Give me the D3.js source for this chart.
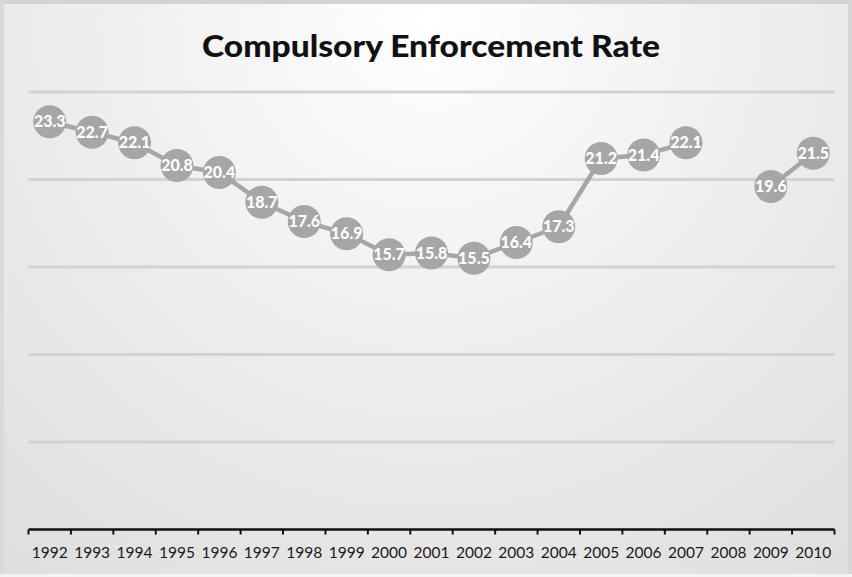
<!DOCTYPE html>
<html><head><meta charset="utf-8">
<script src="https://cdn.jsdelivr.net/npm/d3@7"></script>
<style>html,body{margin:0;padding:0;background:#fff;}svg{display:block;}</style>
</head><body>
<svg id="chart" width="852" height="577"></svg>
<script>
const title = "Compulsory Enforcement Rate";
const years = ["1992","1993","1994","1995","1996","1997","1998","1999","2000","2001","2002","2003","2004","2005","2006","2007","2008","2009","2010"];
const rates = [23.3,22.7,22.1,20.8,20.4,18.7,17.6,16.9,15.7,15.8,15.5,16.4,17.3,21.2,21.4,22.1,null,19.6,21.5];
const gridValues = [5,10,15,20,25];

const W = 852, H = 577;
const svg = d3.select("#chart");
const defs = svg.append("defs");
const rg = defs.append("radialGradient").attr("id","bg")
  .attr("gradientUnits","userSpaceOnUse").attr("cx",430).attr("cy",20).attr("r",680);
rg.append("stop").attr("offset","0").attr("stop-color","#ffffff");
rg.append("stop").attr("offset","0.5").attr("stop-color","#eeeeee");
rg.append("stop").attr("offset","1").attr("stop-color","#dfdfdf");

svg.append("rect").attr("width",W).attr("height",H).attr("fill","url(#bg)");
svg.append("rect").attr("x",0).attr("y",0).attr("width",W).attr("height",4).attr("fill","#d3d3d3");
svg.append("rect").attr("x",0).attr("y",0).attr("width",4).attr("height",H).attr("fill","#dadada");
svg.append("rect").attr("x",848).attr("y",0).attr("width",4).attr("height",H).attr("fill","#d6d6d6");
svg.append("rect").attr("x",0).attr("y",574).attr("width",W).attr("height",3).attr("fill","#f4f4f4");

const x = d3.scaleBand().domain(years).range([28.5, 834.5]);
const y = d3.scaleLinear().domain([0,25]).range([529.5, 92]);

// gridlines
svg.append("g").selectAll("line").data(gridValues).join("line")
  .attr("x1",x.range()[0]).attr("x2",x.range()[1])
  .attr("y1",d=>y(d)).attr("y2",d=>y(d))
  .attr("stroke","#d2d2d2").attr("stroke-width",3);

// axis
const axis = d3.axisBottom(x).tickSize(0).tickPadding(0);
const gx = svg.append("g").attr("transform",`translate(0,${y(0)})`).call(axis);
gx.select(".domain").remove();
gx.selectAll("text").attr("dy",null).attr("y",28.5)
  .attr("font-family","Lato, 'Open Sans', sans-serif").attr("font-size",15.5).attr("fill","#1a1a1a");
svg.append("line").attr("x1",x.range()[0]).attr("x2",x.range()[1]).attr("y1",y(0)).attr("y2",y(0))
  .attr("stroke","#111").attr("stroke-width",2.5);
const boundaries = years.map(d=>x(d)).concat([x.range()[1]]);
svg.append("g").selectAll("line").data(boundaries).join("line")
  .attr("x1",d=>d).attr("x2",d=>d).attr("y1",y(0)).attr("y2",y(0)+5)
  .attr("stroke","#111").attr("stroke-width",2);

// line
const pts = years.map((yr,i)=>({yr, v:rates[i]}));
const line = d3.line().defined(d=>d.v!=null)
  .x(d=>x(d.yr)+x.bandwidth()/2).y(d=>y(d.v));
svg.append("path").datum(pts).attr("d",line)
  .attr("fill","none").attr("stroke","#a6a6a6").attr("stroke-width",4.5);

const valid = pts.filter(d=>d.v!=null);
svg.append("g").selectAll("circle").data(valid).join("circle")
  .attr("cx",d=>x(d.yr)+x.bandwidth()/2).attr("cy",d=>y(d.v)).attr("r",16.5)
  .attr("fill","#a6a6a6");
svg.append("g").selectAll("text").data(valid).join("text")
  .attr("x",d=>x(d.yr)+x.bandwidth()/2).attr("y",d=>y(d.v)+5.5)
  .attr("text-anchor","middle").attr("font-family","Lato, 'Open Sans', sans-serif")
  .attr("font-weight","900").attr("font-size",16).attr("fill","#ffffff")
  .text(d=>d.v.toFixed(1));

svg.append("text").attr("x",431).attr("y",57).attr("text-anchor","middle")
  .attr("font-family","Lato, 'Open Sans', sans-serif").attr("font-weight","900")
  .attr("font-size",30).attr("fill","#111").attr("textLength",458).attr("lengthAdjust","spacingAndGlyphs")
  .text(title);
</script>
</body></html>
